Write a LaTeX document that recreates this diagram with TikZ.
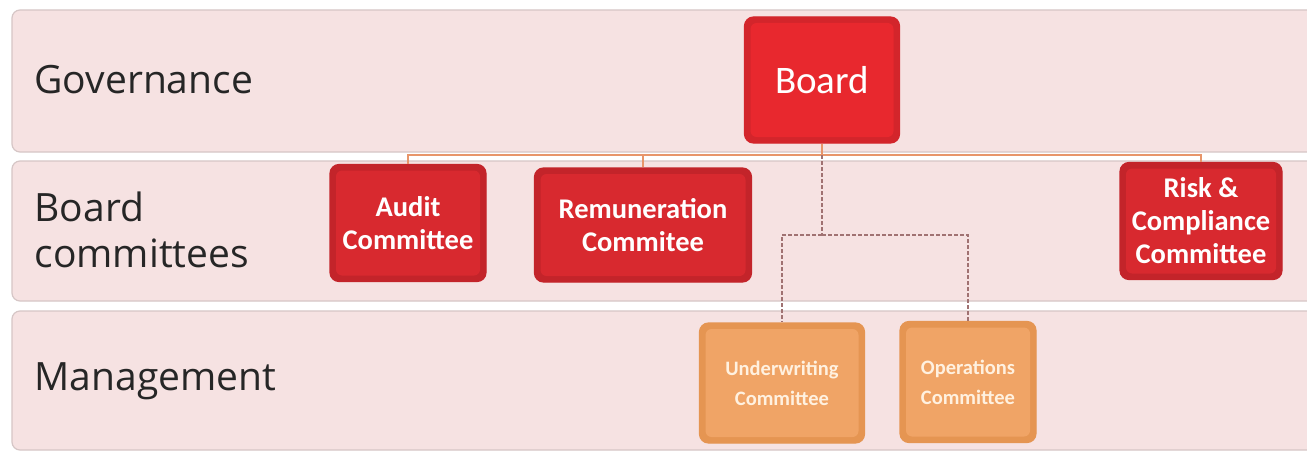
\documentclass[tikz,border=0pt]{standalone}
\usepackage{fontspec}
\setmainfont{Open Sans}
\newfontfamily\boxfont{Carlito}
\definecolor{bandfill}{HTML}{F6E2E2}
\definecolor{banddraw}{HTML}{D6C6C6}
\definecolor{redfill}{HTML}{D8292F}
\definecolor{redbevel}{HTML}{C3242A}
\definecolor{reddraw}{HTML}{C3242A}
\definecolor{boardfill}{HTML}{E8282E}
\definecolor{boardbevel}{HTML}{D3252B}
\definecolor{orangefill}{HTML}{F0A466}
\definecolor{orangebevel}{HTML}{E59552}
\definecolor{orangedraw}{HTML}{E59552}
\definecolor{buscol}{HTML}{E8956A}
\definecolor{dashcol}{HTML}{A07272}
\definecolor{labtext}{HTML}{FFF1E0}
\tikzset{
  band/.style={fill=bandfill, draw=banddraw, line width=1.2pt, rounded corners=8pt},
  bandlabel/.style={anchor=west, align=left, text=black!85, font=\fontsize{39}{46}\selectfont},
  bevel/.style={path picture={
      \fill[#1, rounded corners=6pt]
        ([xshift=6pt,yshift=6pt]path picture bounding box.south west)
        rectangle ([xshift=-6pt,yshift=-6pt]path picture bounding box.north east);}},
  redbox/.style={fill=redbevel, draw=reddraw, line width=1.2pt, rounded corners=9pt, text=white, align=center,
    bevel=redfill, font=\boxfont\bfseries\fontsize{28.5}{33}\selectfont, inner sep=0pt},
  boardbox/.style={fill=boardbevel, draw=boardbevel, line width=1.2pt, rounded corners=9pt, text=white, align=center,
    bevel=boardfill, font=\boxfont\fontsize{39}{44}\selectfont, inner sep=0pt},
  orangebox/.style={fill=orangebevel, draw=orangedraw, line width=1.2pt, rounded corners=9pt, text=labtext, align=center,
    bevel=orangefill, font=\boxfont\bfseries\fontsize{20.5}{30}\selectfont, inner sep=0pt},
  busline/.style={draw=buscol, line width=1.6pt},
  dashline/.style={draw=dashcol, line width=1.4pt, dash pattern=on 4pt off 2pt}
}
\begin{document}
\begin{tikzpicture}[x=1pt,y=-1pt]
\useasboundingbox (0,0) rectangle (1307,452);
\fill[white] (0,0) rectangle (1307,452);
\begin{scope}
\clip (0,0) rectangle (1307,452);
\draw[band] (12,10) rectangle (1325,152);
\draw[band] (12,161) rectangle (1325,301);
\draw[band] (12,311) rectangle (1325,450);
\end{scope}
\node[bandlabel] (lgov) at (31,80) {Governance};
\node[bandlabel] (lbc) at (31,230) {Board\\committees};
\node[bandlabel] (lman) at (31,381) {Management};

\node[boardbox, minimum width=155pt, minimum height=126pt] (board) at (822,80) {Board};
\node[redbox, minimum width=156pt, minimum height=117pt] (audit) at (408,223) {Audit\\Committee};
\node[redbox, minimum width=217pt, minimum height=114pt] (remun) at (643,225) {Remuneration\\Commitee};
\node[redbox, minimum width=162pt, minimum height=117pt] (risk) at (1201,221) {Risk \&\\Compliance\\Committee};
\node[orangebox, minimum width=165pt, minimum height=120pt] (under) at (782,383) {Underwriting\\Committee};
\node[orangebox, minimum width=136pt, minimum height=121pt] (oper) at (968,382) {Operations\\Committee};

\coordinate (bus) at (822,155);
\coordinate (dj) at (822,235);
\draw[busline] (board.south) -- (bus);
\draw[busline] (bus) -| (audit.north);
\draw[busline] (bus) -| (remun.north);
\draw[busline] (bus) -| (risk.north);
\draw[dashline] (bus) -- (dj);
\draw[dashline] (dj) -| (under.north);
\draw[dashline] (dj) -| (oper.north);
\end{tikzpicture}
\end{document}
